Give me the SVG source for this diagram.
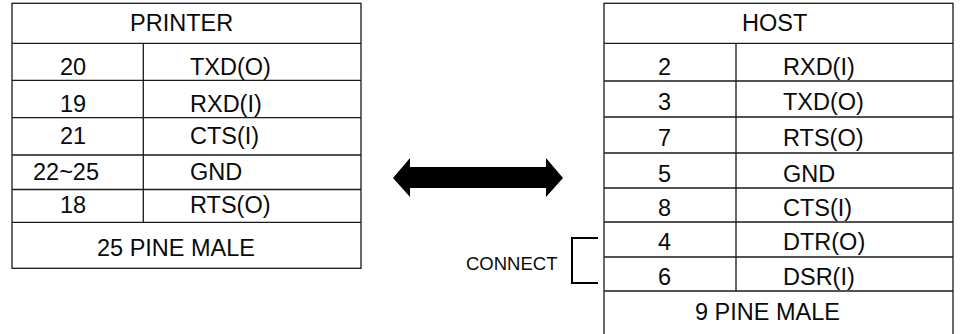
<svg xmlns="http://www.w3.org/2000/svg" width="966" height="334" viewBox="0 0 966 334">
<style>
.b{fill:#fff;stroke:#1a1a1a;stroke-width:1.3}
.l{stroke:#1a1a1a;stroke-width:1.3;fill:none}
.t{font-family:"Liberation Sans",Arial,sans-serif;font-size:23.5px;fill:#0a0a0a}
.c{font-family:"Liberation Sans",Arial,sans-serif;font-size:18.5px;fill:#0a0a0a}
</style>
<rect width="966" height="334" fill="#fff"/>
<g id="printer">
<rect class="b" x="12" y="3.3" width="349" height="265"/>
<path class="l" d="M12 43.3H361M12 80.3H361M12 117.7H361M12 155H361M12 189.5H361M12 222.3H361M143.3 43.3V222.3"/>
<text class="t" x="130" y="31">PRINTER</text>
<text class="t" x="60" y="75">20</text><text class="t" x="190" y="75">TXD(O)</text>
<text class="t" x="60" y="111.5">19</text><text class="t" x="190" y="111.5">RXD(I)</text>
<text class="t" x="60" y="144">21</text><text class="t" x="190" y="144">CTS(I)</text>
<text class="t" x="33" y="180">22~25</text><text class="t" x="190" y="180">GND</text>
<text class="t" x="60" y="213">18</text><text class="t" x="190" y="213">RTS(O)</text>
<text class="t" x="97" y="256">25 PINE MALE</text>
</g>
<g id="host">
<rect class="b" x="604" y="3.3" width="349" height="340"/>
<path class="l" d="M604 43.3H953M604 81H953M604 117H953M604 153H953M604 188H953M604 222H953M604 257H953M604 291H953M736 43.3V291"/>
<text class="t" x="742" y="31">HOST</text>
<text class="t" x="658" y="75">2</text><text class="t" x="783" y="75">RXD(I)</text>
<text class="t" x="658" y="110">3</text><text class="t" x="783" y="110">TXD(O)</text>
<text class="t" x="658" y="146">7</text><text class="t" x="783" y="146">RTS(O)</text>
<text class="t" x="658" y="182">5</text><text class="t" x="783" y="182">GND</text>
<text class="t" x="658" y="216">8</text><text class="t" x="783" y="216">CTS(I)</text>
<text class="t" x="658" y="250">4</text><text class="t" x="783" y="250">DTR(O)</text>
<text class="t" x="658" y="285">6</text><text class="t" x="783" y="285">DSR(I)</text>
<text class="t" x="695" y="320">9 PINE MALE</text>
</g>
<g id="connectors">
<polygon points="393,178 410,158 410,167 546,167 546,158 563,178 546,197 546,188 410,188 410,197" fill="#000"/>
<text class="c" x="466" y="270">CONNECT</text>
<path d="M598 238H572V283H598" fill="none" stroke="#000" stroke-width="2"/>
</g>
</svg>
